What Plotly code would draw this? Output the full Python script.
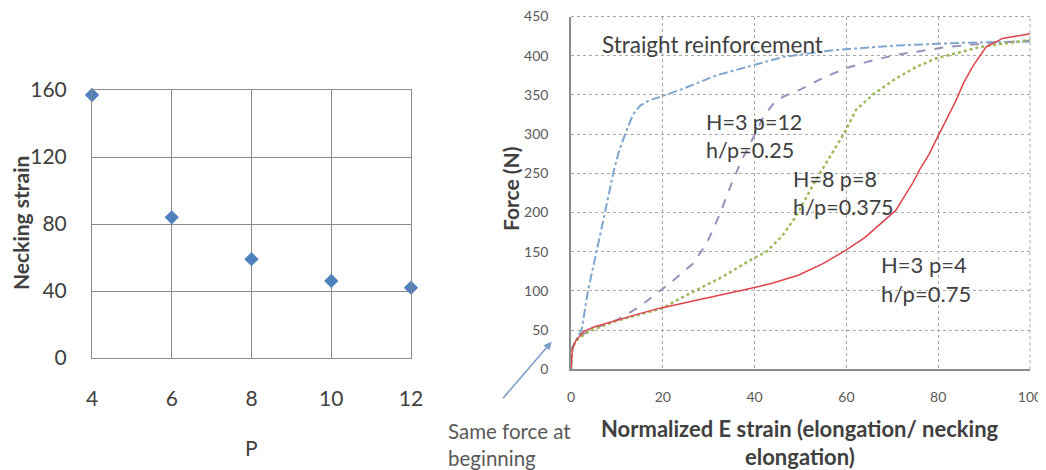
import plotly.graph_objects as go

# ---------------- data: left chart ----------------
p_vals = [4, 6, 8, 10, 12]
necking_strain = [157, 84, 59, 46, 42]

# ---------------- data: right chart ----------------
straight_x = [0, 0.3, 1, 2.3, 3.7, 5.6, 7.4, 9.2, 10.5, 12, 13.5, 15, 17, 19.4, 24.5, 31.7, 39.7, 46.3, 57, 70.8, 85.3, 100]
straight_y = [0, 28, 36, 50, 100, 150, 200, 250, 279, 303, 325, 336, 343, 347.5, 358, 375, 388, 398.5, 407, 413, 416.5, 418]

p12_x = [0, 0.3, 1, 2, 3, 5, 10, 15, 18.7, 22, 26.6, 29.6, 32.5, 35, 37.2, 39, 41.9, 44, 46.3, 50, 55, 59.9, 65, 70.8, 81.7, 92.6, 100]
p12_y = [0, 27, 35, 42, 46, 52, 63, 80, 97, 112, 135, 161, 199, 237, 267, 287, 322, 338, 348, 357, 372, 384, 393, 401, 411, 417, 419]

p8_x = [0, 0.3, 1, 2, 3, 5, 10, 15, 20, 23, 27.4, 33, 39, 42.6, 46, 49, 53, 56.3, 59.5, 62.1, 65.7, 70.8, 75, 79.5, 89, 100]
p8_y = [0, 27, 36, 41, 45, 51, 62, 70, 78, 88, 101, 118, 139, 150, 170, 195, 238, 270, 301, 331, 350, 371, 385, 396.5, 411, 420]

p4_x = [0, 0.3, 1, 2.7, 5, 10, 15, 19.4, 25, 30, 35, 39, 44, 49.5, 55, 59.9, 64, 67.2, 70.8, 73, 74.4, 76, 78.1, 79.5, 82, 83.9, 85.5, 87.5, 90.4, 94, 100]
p4_y = [0, 26, 36, 48, 54, 63, 71, 78, 85, 92, 98, 103, 110, 120, 135, 152, 168, 184, 203, 224, 237, 255, 275, 292, 320, 343, 365, 386, 411, 422, 428]

left_yticks = [0, 40, 80, 120, 160]
right_yticks = [0, 50, 100, 150, 200, 250, 300, 350, 400, 450]
right_xticks = [0, 20, 40, 60, 80, 100]

# the page body has an 8px margin, so the figure starts at (8, 8) in the window
OFF = 8
W, H = 1046 - OFF, 470 - OFF
FONT = "Lato"
DARK = "#404040"
MID = "#595959"


def px(xp):
    return (xp - OFF) / W


def py(yp):
    return 1 - (yp - OFF) / H


fig = go.Figure()

fig.add_trace(go.Scatter(
    x=p_vals, y=necking_strain, mode="markers", xaxis="x", yaxis="y",
    marker=dict(symbol="diamond", size=11, color="#4F81BD"),
    cliponaxis=False, showlegend=False))

fig.add_trace(go.Scatter(
    x=straight_x, y=straight_y, mode="lines", xaxis="x2", yaxis="y2",
    line=dict(color="#7FA6D0", width=2, dash="dashdot"), showlegend=False))
fig.add_trace(go.Scatter(
    x=p12_x, y=p12_y, mode="lines", xaxis="x2", yaxis="y2",
    line=dict(color="#9B8FBC", width=2, dash="dash"), showlegend=False))
fig.add_trace(go.Scatter(
    x=p8_x, y=p8_y, mode="lines", xaxis="x2", yaxis="y2",
    line=dict(color="#9BBB59", width=2.5, dash="dot"), showlegend=False))
fig.add_trace(go.Scatter(
    x=p4_x, y=p4_y, mode="lines", xaxis="x2", yaxis="y2",
    line=dict(color="#E0434B", width=1.5), showlegend=False))

left_grid = "#8A8A8A"
right_grid = "#A8A8A8"
fig.update_layout(
    width=W, height=H,
    margin=dict(l=0, r=0, t=0, b=0, pad=0),
    paper_bgcolor="white", plot_bgcolor="white",
    font=dict(family=FONT, color=DARK),
    xaxis=dict(domain=[px(92), px(411)], range=[4, 12], tickvals=p_vals,
               showgrid=True, gridcolor=left_grid, gridwidth=1,
               zeroline=False, showline=True, mirror=True, linecolor=left_grid, linewidth=1,
               ticks="", automargin=False, ticklabeloverflow="allow",
               ticklabelstandoff=22,
               tickfont=dict(size=21, color=DARK, family=FONT), anchor="y"),
    yaxis=dict(domain=[py(358), py(90)], range=[0, 160], tickvals=left_yticks,
               showgrid=True, gridcolor=left_grid, gridwidth=1,
               zeroline=False, showline=True, mirror=True, linecolor=left_grid, linewidth=1,
               ticks="", automargin=False, ticklabeloverflow="allow",
               ticklabelstandoff=20,
               tickfont=dict(size=21, color=DARK, family=FONT), anchor="x"),
    xaxis2=dict(domain=[px(571), px(1030)], range=[0, 100], tickvals=right_xticks,
                showgrid=True, gridcolor=right_grid, griddash="dot", gridwidth=1,
                zeroline=False, showline=True, linecolor="#8C8C8C", linewidth=1.5,
                ticks="", automargin=False, ticklabeloverflow="allow", ticklabelstandoff=14,
                tickfont=dict(size=14, color=MID, family=FONT), anchor="y2"),
    yaxis2=dict(domain=[py(369.3), py(16.5)], range=[0, 450], tickvals=right_yticks,
                showgrid=True, gridcolor=right_grid, griddash="dot", gridwidth=1,
                zeroline=False, showline=True, linecolor="#8C8C8C", linewidth=1.5,
                ticks="", automargin=False, ticklabeloverflow="allow", ticklabelstandoff=18,
                tickfont=dict(size=14, color=MID, family=FONT), anchor="x2"),
)

# dotted top / right border of the right plot (grid lines at 450 and 100)
fig.add_shape(type="line", xref="x2 domain", yref="y2 domain", x0=0, x1=1, y0=1, y1=1,
              line=dict(color=right_grid, width=1, dash="dot"), layer="below")
fig.add_shape(type="line", xref="x2 domain", yref="y2 domain", x0=1, x1=1, y0=0, y1=1,
              line=dict(color=right_grid, width=1, dash="dot"), layer="below")

ann = []
# axis titles
ann.append(dict(text="<b>Necking strain</b>", x=px(20), y=py(223), xref="paper", yref="paper",
                textangle=-90, showarrow=False, font=dict(size=21, color=DARK),
                xanchor="center", yanchor="middle"))
ann.append(dict(text="P", x=px(251), y=py(447), xref="paper", yref="paper",
                showarrow=False, font=dict(size=21, color=DARK),
                xanchor="center", yanchor="middle"))
ann.append(dict(text="<b>Force (N)</b>", x=px(510), y=py(189), xref="paper", yref="paper",
                textangle=-90, showarrow=False, font=dict(size=21, color=DARK),
                xanchor="center", yanchor="middle"))
ann.append(dict(text="<b>Normalized E strain (elongation/ necking</b>",
                x=px(800), y=py(428), xref="paper", yref="paper",
                showarrow=False, font=dict(size=22, color=DARK),
                xanchor="center", yanchor="middle"))
ann.append(dict(text="<b>elongation)</b>",
                x=px(800), y=py(456), xref="paper", yref="paper",
                showarrow=False, font=dict(size=22, color=DARK),
                xanchor="center", yanchor="middle"))
# in-plot labels
ann.append(dict(text="Straight reinforcement", x=6.3, y=414, xref="x2", yref="y2",
                showarrow=False, font=dict(size=22.5, color=DARK),
                xanchor="left", yanchor="middle"))
ann.append(dict(text="H=3 p=12<br>h/p=0.25", x=29, y=297, xref="x2", yref="y2",
                showarrow=False, font=dict(size=21.5, color=DARK), align="left",
                xanchor="left", yanchor="middle"))
ann.append(dict(text="H=8 p=8<br>h/p=0.375", x=48, y=225, xref="x2", yref="y2",
                showarrow=False, font=dict(size=21.5, color=DARK), align="left",
                xanchor="left", yanchor="middle"))
ann.append(dict(text="H=3 p=4<br>h/p=0.75", x=67.2, y=115, xref="x2", yref="y2",
                showarrow=False, font=dict(size=22, color=DARK), align="left",
                xanchor="left", yanchor="middle"))
ann.append(dict(text="Same force at<br>beginning", x=px(446), y=py(444), xref="paper", yref="paper",
                showarrow=False, font=dict(size=20.5, color=MID), align="left",
                xanchor="left", yanchor="middle"))
# arrow
ann.append(dict(text="", x=px(551.7), y=py(341.7), xref="paper", yref="paper",
                ax=-50, ay=58, showarrow=True, arrowhead=2, arrowsize=1,
                arrowwidth=1.6, arrowcolor="#7A9CC6"))

fig.update_layout(annotations=ann)
fig.write_html("out.html")
